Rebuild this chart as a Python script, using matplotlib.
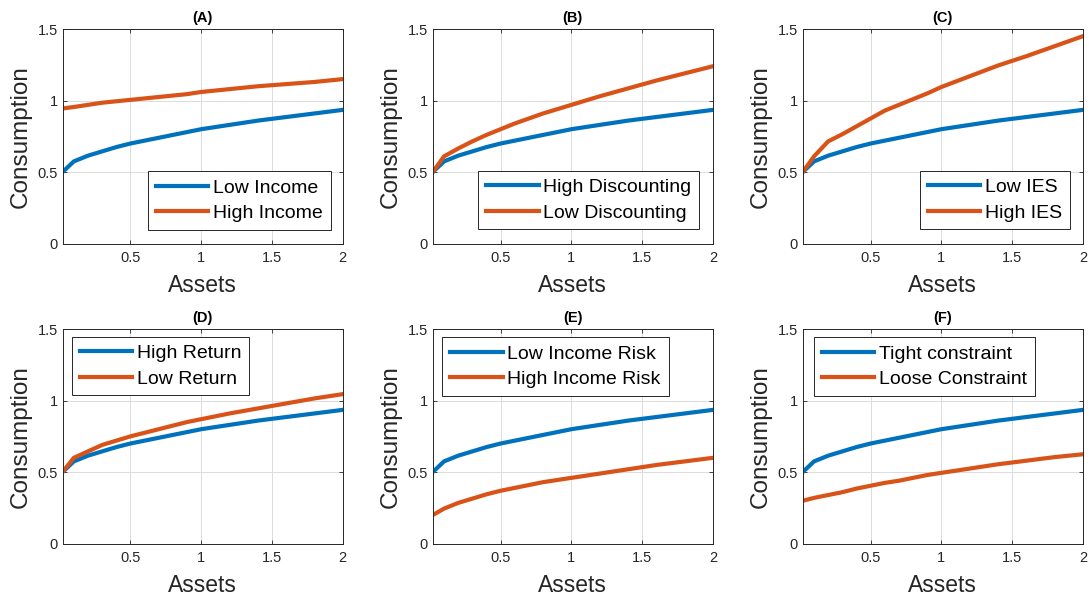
import matplotlib
matplotlib.use("Agg")
import matplotlib.pyplot as plt

plt.rcParams['font.family'] = ['Liberation Sans', 'DejaVu Sans']

assets = [0.02, 0.1, 0.2, 0.3, 0.4, 0.5, 0.6, 0.7, 0.8, 0.9, 1.0, 1.2, 1.4, 1.6, 1.8, 2.0]
baseline = [0.50, 0.575, 0.615, 0.645, 0.675, 0.70, 0.72, 0.74, 0.76, 0.78, 0.80, 0.83, 0.86, 0.885, 0.91, 0.935]

alt_A = [0.945, 0.955, 0.97, 0.985, 0.995, 1.005, 1.015, 1.025, 1.035, 1.045, 1.06, 1.08, 1.10, 1.115, 1.13, 1.15]
alt_B = [0.50, 0.61, 0.665, 0.715, 0.76, 0.80, 0.84, 0.875, 0.91, 0.94, 0.97, 1.03, 1.085, 1.14, 1.19, 1.24]
alt_C = [0.50, 0.61, 0.715, 0.765, 0.82, 0.875, 0.93, 0.97, 1.01, 1.05, 1.095, 1.17, 1.245, 1.31, 1.38, 1.45]
alt_D = [0.50, 0.60, 0.645, 0.69, 0.72, 0.75, 0.775, 0.80, 0.825, 0.85, 0.87, 0.91, 0.945, 0.98, 1.015, 1.045]
alt_E = [0.20, 0.245, 0.285, 0.315, 0.345, 0.37, 0.39, 0.41, 0.43, 0.445, 0.46, 0.49, 0.52, 0.55, 0.575, 0.60]
alt_F = [0.30, 0.32, 0.34, 0.36, 0.385, 0.405, 0.425, 0.44, 0.46, 0.48, 0.495, 0.525, 0.555, 0.58, 0.605, 0.625]

titles = ['(A)', '(B)', '(C)', '(D)', '(E)', '(F)']
labels_blue = ['Low Income', 'High Discounting', 'Low IES', 'High Return', 'Low Income Risk', 'Tight constraint']
labels_orange = ['High Income', 'Low Discounting', 'High IES', 'Low Return', 'High Income Risk', 'Loose Constraint']
alts = [alt_A, alt_B, alt_C, alt_D, alt_E, alt_F]

xticks = [0.5, 1, 1.5, 2]
xticklabels = ['0.5', '1', '1.5', '2']
yticks = [0, 0.5, 1, 1.5]
yticklabels = ['0', '0.5', '1', '1.5']

BLUE = '#0072BD'
ORANGE = '#D95319'
AXC = '#262626'

W, H = 1089, 603
fig = plt.figure(figsize=(W / 100, H / 100), dpi=100)

lefts = [62.5, 432.7, 802.7]
tops = [29, 329]
aw, ah = 280.3, 214.7

leg_specs = [
    ('lower right', (0.957, 0.064)),
    ('lower right', (0.951, 0.067)),
    ('lower right', (0.954, 0.067)),
    ('upper left', (0.034, 0.964)),
    ('upper left', (0.034, 0.962)),
    ('upper left', (0.040, 0.962)),
]

for i in range(6):
    r, c = divmod(i, 3)
    l = lefts[c] / W
    b = 1 - (tops[r] + ah) / H
    ax = fig.add_axes([l, b, aw / W, ah / H])
    ax.plot(assets, baseline, color=BLUE, lw=3, label=labels_blue[i])
    ax.plot(assets, alts[i], color=ORANGE, lw=3, label=labels_orange[i])
    ax.set_xlim(0.02, 2)
    ax.set_ylim(0, 1.5)
    ax.set_xticks(xticks)
    ax.set_xticklabels(xticklabels)
    ax.set_yticks(yticks)
    ax.set_yticklabels(yticklabels)
    ax.grid(True, color='#dcdcdc', lw=0.7)
    ax.set_axisbelow(True)
    ax.tick_params(direction='in', length=3, width=0.6, colors=AXC, labelsize=10.5,
                   top=True, right=True, labeltop=False, labelright=False)
    ax.tick_params(axis='x', pad=5)
    for s in ax.spines.values():
        s.set_color(AXC)
        s.set_linewidth(0.7)
    ax.set_xlabel('Assets', fontsize=16.5, color=AXC, labelpad=7)
    ax.set_ylabel('Consumption', fontsize=17.5, color=AXC, labelpad=4)
    ax.set_title(titles[i], fontsize=10.5, fontweight='bold', color='black', pad=5)
    loc, anchor = leg_specs[i]
    leg = ax.legend(loc=loc, bbox_to_anchor=anchor, borderaxespad=0, fontsize=14,
                    frameon=True, fancybox=False, edgecolor=AXC, framealpha=1,
                    handlelength=2.7, handletextpad=0.25, borderpad=0.4, labelspacing=0.4)
    leg.get_frame().set_linewidth(0.7)

fig.savefig('out.png', dpi=100)
